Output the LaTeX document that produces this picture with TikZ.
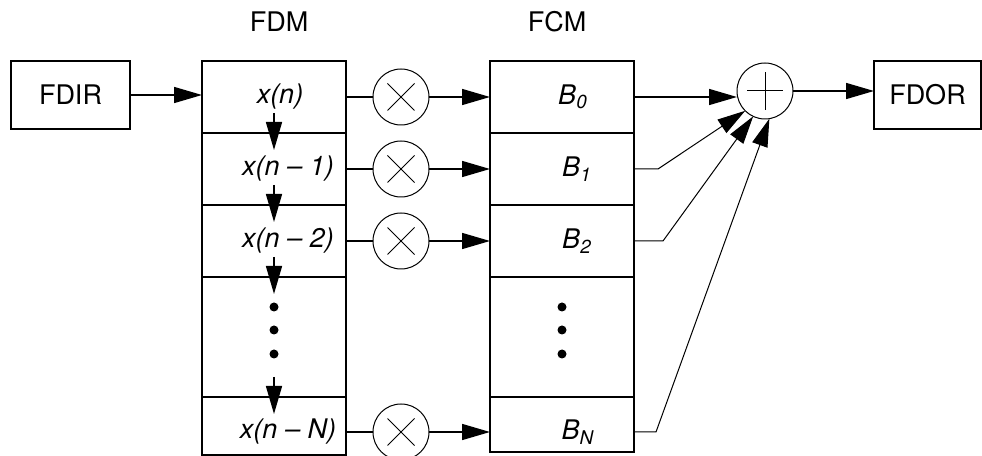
\documentclass[tikz,border=0pt]{standalone}
\usepackage{fontspec}
\setmainfont{TeX Gyre Heros}
\usetikzlibrary{arrows.meta,positioning}

\begin{document}
\begin{tikzpicture}[x=0.5pt, y=0.5pt,
  box/.style = {draw, line width=0.8pt, minimum width=59.5pt, minimum height=34pt, outer sep=0pt},
  cell/.style = {draw, line width=0.8pt, minimum width=72pt, minimum height=36pt, inner sep=0pt, outer sep=0pt},
  mult/.style = {draw, circle, line width=0.5pt, minimum size=28pt, inner sep=0pt, outer sep=0pt},
  link/.style = {line width=0.6pt},
  arrow/.style = {line width=0.75pt, -{Triangle[length=14pt, width=8pt]}},
  thin arrow/.style = {line width=0.5pt, -{Triangle[length=14pt, width=8pt]}},
  font=\fontsize{13.5}{16}\selectfont
  ]
\useasboundingbox (0,0) rectangle (982,456);

% Input and output
\node[box] (fdir) at (70.5,361) {FDIR};
\node[box, minimum width=53.5pt] (fdor) at (927.5,361) {FDOR};

% Delay line (FDM)
\node[cell] (d0) at (274,359) {};
\node[cell, below=0pt of d0] (d1) {};
\node[cell, below=0pt of d1] (d2) {};
\node[cell, below=0pt of d2, minimum height=60pt] (d3) {};
\node[cell, below=0pt of d3, minimum height=29pt] (d4) {};
\node (fdm) at (279,434) {FDM};

% Coefficients (FCM)
\node[cell, right=72pt of d0] (c0) {};
\node[cell, below=0pt of c0] (c1) {};
\node[cell, below=0pt of c1] (c2) {};
\node[cell, below=0pt of c2, minimum height=60pt] (c3) {};
\node[cell, below=0pt of c3, minimum height=27.5pt] (c4) {};
\node (fcm) at (557,434) {FCM};

% Cell texts
\node[xshift=3pt] (x0) at (d0) {\textit{x(n)}};
\node[xshift=7pt] (x1) at (d1) {\textit{x(n -- 1)}};
\node[xshift=7pt] (x2) at (d2) {\textit{x(n -- 2)}};
\node[xshift=7pt, yshift=-3pt] (x4) at (d4) {\textit{x(n -- N)}};
\node[xshift=5.5pt] (b0) at (c0) {\textit{B\textsubscript{0}}};
\node[xshift=7.5pt] (b1) at (c1) {\textit{B\textsubscript{1}}};
\node[xshift=7.5pt] (b2) at (c2) {\textit{B\textsubscript{2}}};
\node[xshift=8pt, yshift=-3.75pt] (b4) at (c4) {\textit{B\textsubscript{N}}};

% Dots
\foreach \dy in {15,3.5,-8.5} {
  \fill ([yshift=\dy pt]d3.center) circle (2.25pt);
  \fill ([yshift=\dy pt]c3.center) circle (2.25pt);
}

% Multipliers
\node[mult, right=13.5pt of d0] (m0) {};
\node[mult, right=13.5pt of d1] (m1) {};
\node[mult, right=13.5pt of d2] (m2) {};
\node[mult, right=13.5pt of d4, yshift=-3pt] (m4) {};
\foreach \i in {0,1,2,4} {
  \draw[line width=0.5pt] ([shift={(-6.75pt,-6.75pt)}]m\i.center) -- ([shift={(6.75pt,6.75pt)}]m\i.center);
  \draw[line width=0.5pt] ([shift={(-6.75pt,6.75pt)}]m\i.center) -- ([shift={(6.75pt,-6.75pt)}]m\i.center);
}

% Adder
\node[mult] (sum) at (765,365) {};
\draw[line width=0.5pt] ([xshift=-9pt]sum.center) -- ([xshift=9pt]sum.center);
\draw[line width=0.5pt] ([yshift=-9.5pt]sum.center) -- ([yshift=9.5pt]sum.center);

% Draw arrows
\draw[arrow] (fdir.east) -- (fdir.east -| d0.west);
\foreach \i in {0,1,2,3}
  \draw[arrow] ([yshift=10pt]d\i.south) -- ([yshift=-8.5pt]d\i.south);
\foreach \i in {0,1,2,4} {
  \draw[link] (m\i.west -| d\i.east) -- (m\i.west);
  \draw[arrow] (m\i.east) -- (m\i.east -| c\i.west);
}
\draw[arrow] (c0.east) -- (c0.east -| sum.west);
\draw[thin arrow] (c1.east) -- ++(12pt,0) -- (sum.225);
\draw[thin arrow] (c2.east) -- ++(14.5pt,0) -- (sum.245);
\draw[thin arrow] ([yshift=-3.75pt]c4.east) -- ++(11pt,0) -- (sum.279);
\draw[arrow] (sum.east) -- (sum.east -| fdor.west);
\end{tikzpicture}
\end{document}
